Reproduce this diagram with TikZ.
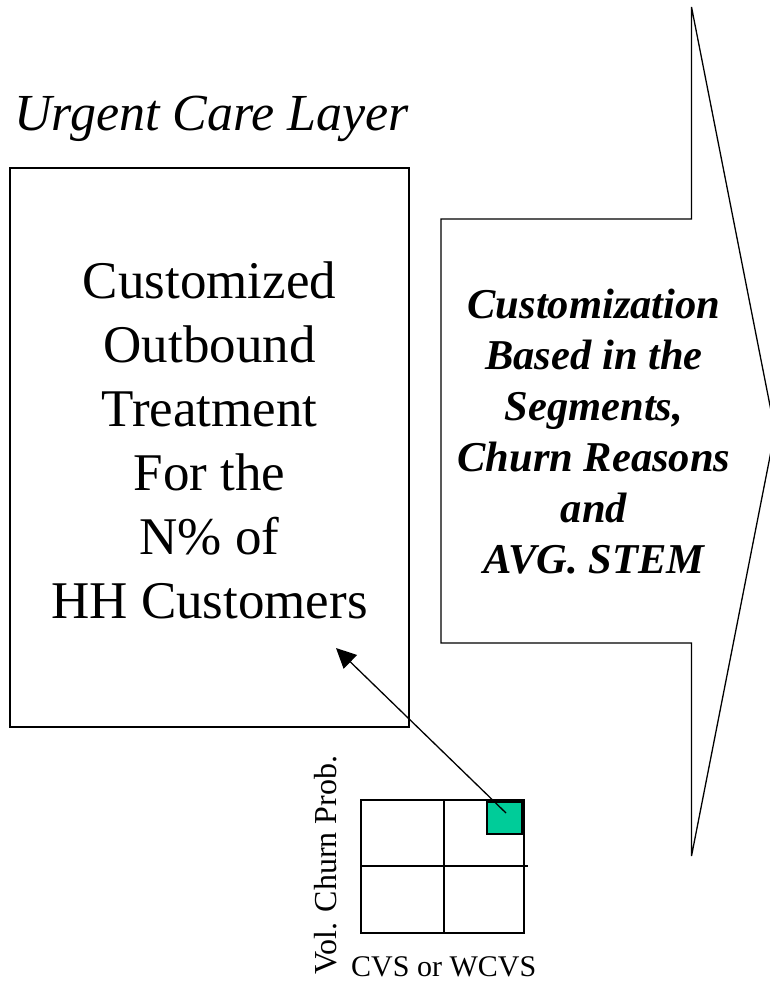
\documentclass[tikz,border=0pt]{standalone}
\usepackage{fontspec}
\setmainfont{Liberation Serif}
\usetikzlibrary{arrows.meta}
\definecolor{cellgreen}{HTML}{00CC99}
\tikzset{
  outline/.style={draw=black, line width=1.3pt},
  bigtext/.style={font=\fontsize{53}{64}\selectfont, align=center, inner sep=0pt},
  arrowtext/.style={font=\fontsize{42.5}{51}\selectfont\bfseries\itshape, align=center, inner sep=0pt},
  smalllabel/.style={font=\fontsize{30}{36}\selectfont, inner sep=0pt},
  pointer/.style={line width=1.3pt, -{Triangle[length=20pt,width=19pt]}}
}
\begin{document}
\begin{tikzpicture}[x=1pt, y=-1pt]
  \useasboundingbox (0,0) rectangle (770,982);
  \clip (0,0) rectangle (770,982);

  % layer title
  \node[font=\fontsize{52}{62}\selectfont\itshape, anchor=base west, inner sep=0pt] (title) at (14,130) {Urgent Care Layer};

  % treatment box
  \draw[outline] (10,168) rectangle (409,727);
  \node[bigtext] (treat) at (209.5,440) {Customized\\Outbound\\Treatment\\For the\\N\% of\\HH Customers};

  % block arrow
  \draw[outline, line join=miter] (441,219) -- (691.5,219) -- (691.5,7) -- (775,431)
        -- (691.5,856) -- (691.5,643) -- (441,643) -- cycle;
  \node[arrowtext] (custom) at (594,432) {Customization\\Based in the\\Segments,\\Churn Reasons\\and\\AVG. STEM};

  % 2x2 matrix
  \draw[outline] (361,800) rectangle (524,933);
  \draw[outline] (444,800) -- (444,933);
  \draw[outline] (361,866) -- (528,866);
  \node[fill=cellgreen, draw=black, line width=1.3pt, minimum width=35pt, minimum height=32pt, inner sep=0pt] (cell) at (504.5,818) {};

  % axis labels
  \node[smalllabel, anchor=base west] (xlab) at (351,976) {CVS or WCVS};
  \node[smalllabel, font=\fontsize{32}{38}\selectfont, anchor=base west, rotate=90] (ylab) at (336,975) {Vol. Churn Prob.};

  % pointer from the selected cell into the box
  \coordinate (tip) at (336,648);
  \draw[pointer] ([shift={(1.5,-5)}]cell.center) -- (tip);
\end{tikzpicture}
\end{document}
